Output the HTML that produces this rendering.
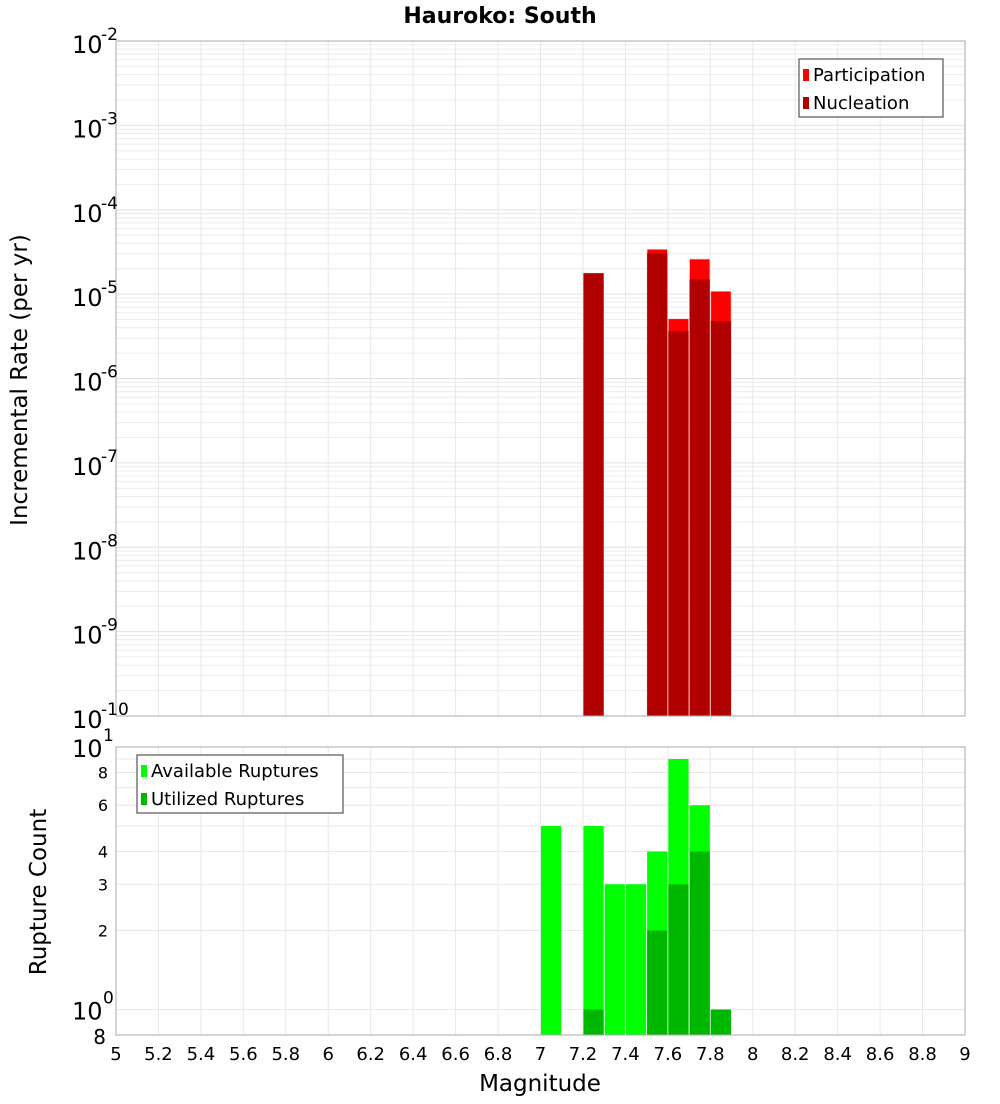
<!DOCTYPE html>
<html><head><meta charset="utf-8"><style>
body{margin:0;background:#fff;font-family:"DejaVu Sans","Liberation Sans",sans-serif}
svg text{font-family:"DejaVu Sans","Liberation Sans",sans-serif}
</style></head><body>
<svg id="c" width="1000" height="1100" xmlns="http://www.w3.org/2000/svg">
<text x="500" y="23" text-anchor="middle" font-size="22" font-weight="bold">Hauroko: South</text>
<text transform="translate(27,380) rotate(-90)" text-anchor="middle" font-size="23">Incremental Rate (per yr)</text>
<text transform="translate(46,892) rotate(-90)" text-anchor="middle" font-size="23">Rupture Count</text>
<text x="540" y="1091" text-anchor="middle" font-size="23">Magnitude</text>
<g id="gtop"></g><g id="gbot"></g>
</svg>
<script>
const bins=[7.25,7.55,7.65,7.75,7.85];
const participation=[1.77e-5,3.4e-5,5.1e-6,2.6e-5,1.08e-5];
const nucleation=[1.77e-5,3.05e-5,3.65e-6,1.5e-5,4.8e-6];
const binsB=[7.05,7.25,7.35,7.45,7.55,7.65,7.75,7.85];
const available=[5,5,3,3,4,9,6,1];
const utilized=[0,1,0,0,2,3,4,1];
const xTicks=[5,5.2,5.4,5.6,5.8,6,6.2,6.4,6.6,6.8,7,7.2,7.4,7.6,7.8,8,8.2,8.4,8.6,8.8,9];
const topExps=[-2,-3,-4,-5,-6,-7,-8,-9,-10];
const botTicks=[[10,"10^1"],[8,"8"],[6,"6"],[4,"4"],[3,"3"],[2,"2"],[1,"10^0"],[0.8,"8"]];
const NS="http://www.w3.org/2000/svg";
const L=116,R=965;
const X=v=>L+(v-5)*(R-L)/4;
const T0=41,T1=716,yT=v=>T0+(-2-Math.log10(v))*(T1-T0)/8;
const B0=747,B1=1035,bLo=Math.log10(0.8),yB=v=>B0+(1-Math.log10(v))*(B1-B0)/(1-bLo);
function mk(p,tag,a){const e=document.createElementNS(NS,tag);for(const k in a)e.setAttribute(k,a[k]);p.appendChild(e);return e;}
const gTop=document.getElementById('gtop'),gBot=document.getElementById('gbot');
for(let e=-10;e<-2;e++)for(let m=1;m<10;m++){const y=yT(m*Math.pow(10,e));const g=mk(gTop,'line',{x1:L,x2:R,y1:y,y2:y,stroke:m==1?'#e2e2e2':'#ececec','stroke-width':1});

}
for(const b of [[gTop,T0,T1],[gBot,B0,B1]])for(const t of xTicks){const g=mk(b[0],'line',{x1:X(t),x2:X(t),y1:b[1],y2:b[2],stroke:'#e8e8e8'});

}
for(let m=1;m<=10;m++){const y=yB(m);const g=mk(gBot,'line',{x1:L,x2:R,y1:y,y2:y,stroke:'#e8e8e8'});

}
const W=(X(5.1)-X(5))-1;
bins.forEach((b,i)=>{
const p=mk(gTop,'rect',{x:X(b-0.05)+0.5,y:yT(participation[i]),width:W,height:T1-yT(participation[i]),fill:'#ff0000',stroke:'#ffbcbc','stroke-width':0.6});


const n=mk(gTop,'rect',{x:X(b-0.05)+0.5,y:yT(nucleation[i]),width:W,height:T1-yT(nucleation[i]),fill:'#b10000'});

});
binsB.forEach((b,i)=>{
const a=mk(gBot,'rect',{x:X(b-0.05)+0.5,y:yB(available[i]),width:W,height:B1-yB(available[i]),fill:'#00ff00'});


if(utilized[i]>0){const u=mk(gBot,'rect',{x:X(b-0.05)+0.5,y:yB(utilized[i]),width:W,height:B1-yB(utilized[i]),fill:'#00b700'});

}});
mk(gTop,'rect',{x:L,y:T0,width:R-L,height:T1-T0,fill:'none',stroke:'#aaa'});
mk(gBot,'rect',{x:L,y:B0,width:R-L,height:B1-B0,fill:'none',stroke:'#aaa'});
topExps.forEach(e=>{const y=yT(Math.pow(10,e));const t=mk(gTop,'text',{x:72,y:y+12,'font-size':24});t.textContent='10';


const s=mk(gTop,'text',{x:101,y:y-1,'font-size':17});s.textContent=String(e);

});
botTicks.forEach(([v,l])=>{const y=yB(v);let t;
if(l.startsWith('10^')){t=mk(gBot,'text',{x:72,y:y+10,'font-size':24});t.textContent='10';const s=mk(gBot,'text',{x:103,y:y-6,'font-size':17});s.textContent=l.slice(3);

}
else{t=mk(gBot,'text',{x:v<1?106:108,y:y+(v<1?9:6),'font-size':v<1?20:16,'text-anchor':'end'});t.textContent=l;}

});
xTicks.forEach(v=>{const t=mk(gBot,'text',{x:X(v),y:1060,'font-size':18,'text-anchor':'middle'});t.textContent=String(v);

});
function legend(p,x,y,w,items,nm){const g=mk(p,'g',{});
mk(g,'rect',{x:x,y:y,width:w,height:58,fill:'#fff',stroke:'#333'});
items.forEach(([c,l],i)=>{mk(g,'rect',{x:x+4,y:y+10+i*28,width:6,height:12,fill:c});const t=mk(g,'text',{x:x+14,y:y+22+i*28,'font-size':18});t.textContent=l;

});}
legend(gTop,799,59,144,[['#ff0000','Participation'],['#b10000','Nucleation']],'top-legend');
legend(gBot,137,755,206,[['#00ff00','Available Ruptures'],['#00b700','Utilized Ruptures']],'bottom-legend');
</script>
</body></html>
